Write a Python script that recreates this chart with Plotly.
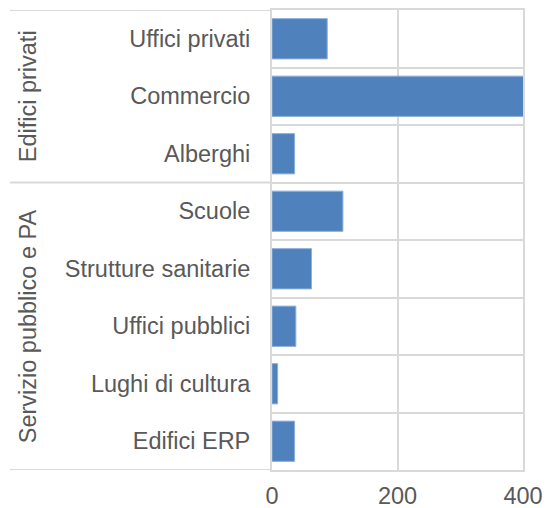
import plotly.graph_objects as go

categories = ["Uffici privati", "Commercio", "Alberghi", "Scuole", "Strutture sanitarie",
              "Uffici pubblici", "Lughi di cultura", "Edifici ERP"]
values = [88, 405, 36, 113, 63, 38, 9, 36]
groups = ["Edifici privati", "Servizio pubblico e PA"]
group_sizes = [3, 5]
x_ticks = [0, 200, 400]

GRID = "#d9d9d9"
TEXT = "#595959"
FONT = "Liberation Sans, Arial, sans-serif"
FS = 23.5

fig = go.Figure()
fig.add_trace(go.Bar(
    x=values, y=categories, orientation="h",
    marker=dict(color="#4f81bd", line=dict(color="#8eaedb", width=1)),
    width=0.7, hoverinfo="skip",
))

# group dividers and labels in the label area
shapes = []
annotations = []
start = 0
bounds = [-0.5]
for g, n in zip(groups, group_sizes):
    end = start + n
    bounds.append(end - 0.5)
    annotations.append(dict(
        x=-0.972, xref="paper", y=(start + end - 1) / 2, yref="y",
        text=g, textangle=-90, showarrow=False,
        font=dict(family=FONT, size=FS, color=TEXT),
        xanchor="center", yanchor="middle",
    ))
    start = end
for b in bounds:
    shapes.append(dict(type="line", xref="paper", yref="y", x0=-1.044, x1=0,
                       y0=b, y1=b, line=dict(color=GRID, width=2), layer="below"))

fig.update_layout(
    width=546, height=508,
    margin=dict(l=272, r=23, t=10, b=38),
    paper_bgcolor="white", plot_bgcolor="white",
    showlegend=False,
    font=dict(family=FONT, size=FS, color=TEXT),
    shapes=shapes, annotations=annotations,
    bargap=0.3,
)
fig.update_xaxes(
    range=[0, 400], tickvals=x_ticks, ticktext=[str(v) for v in x_ticks],
    showgrid=True, gridcolor=GRID, gridwidth=2,
    showline=True, linecolor=GRID, linewidth=2, mirror=True,
    zeroline=False, ticks="", ticklabelstandoff=4, automargin=False,
    tickfont=dict(family=FONT, size=FS, color=TEXT),
)
fig.update_yaxes(
    type="category", categoryorder="array", categoryarray=categories,
    range=[len(categories) - 0.5, -0.5],
    tickson="boundaries", showgrid=True, gridcolor=GRID, gridwidth=2,
    showline=True, linecolor=GRID, linewidth=2, mirror=True,
    ticks="", ticklabelstandoff=15, automargin=False,
    tickfont=dict(family=FONT, size=FS, color=TEXT),
)

fig.write_html(
    "out.html",
    config={"displayModeBar": False, "staticPlot": True},
    post_script="document.body.style.margin='0';document.body.style.overflow='hidden';",
)
